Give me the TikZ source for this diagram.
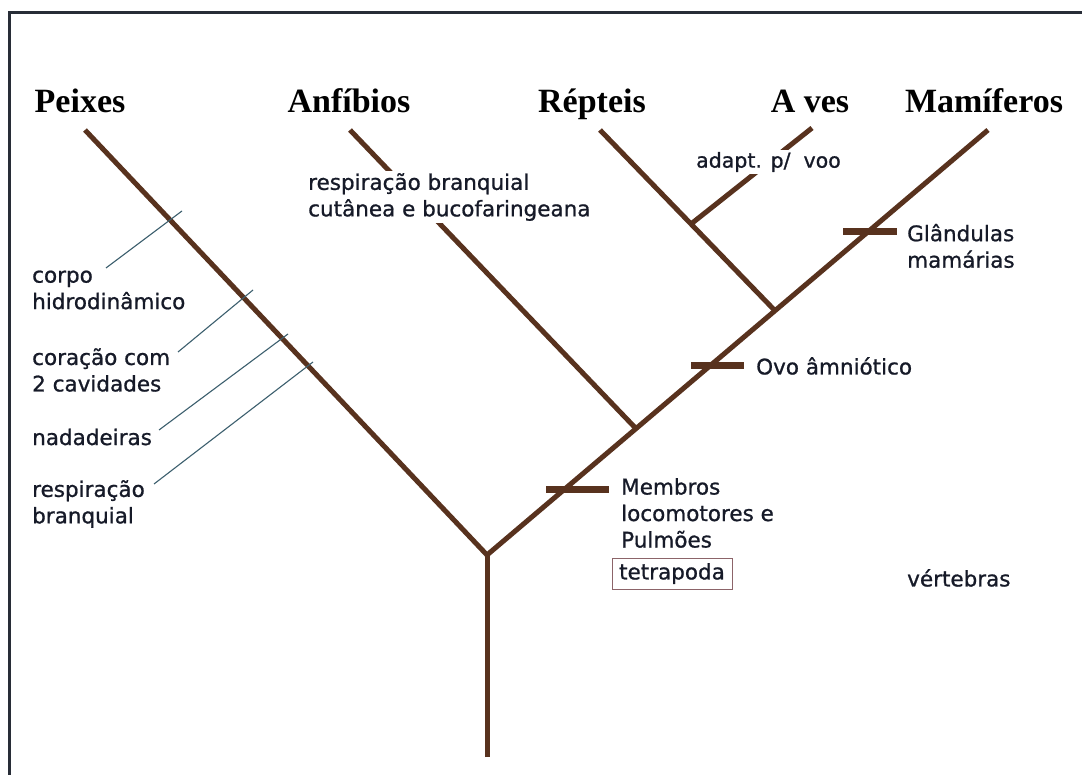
\documentclass[tikz,border=0pt]{standalone}
\usepackage{fontspec}
\setmainfont{Liberation Serif}
\newfontfamily\labfont[FakeBold=0.9]{DejaVu Sans}
\definecolor{branch}{RGB}{88,50,30}
\definecolor{thinc}{RGB}{60,95,110}
\definecolor{ink}{RGB}{22,26,40}
\definecolor{framec}{RGB}{40,45,55}
\definecolor{boxc}{RGB}{140,100,105}
\begin{document}
\begin{tikzpicture}[x=1pt,y=-1pt,
  title/.style={font=\bfseries\fontsize{34}{40}\selectfont, inner sep=0pt, anchor=base},
  lab/.style={font=\labfont\fontsize{21.5}{26.5}\selectfont, text=ink, align=left, inner sep=0pt, anchor=west},
  br/.style={draw=branch, line width=5pt},
  tickbar/.style={draw=branch, line width=7pt},
  pointer/.style={draw=thinc, line width=1.1pt}]
\useasboundingbox (0,0) rectangle (1082,775);
\fill[white] (0,0) rectangle (1082,775);
\draw[framec, line width=3pt] (9,775) -- (9,13) -- (1082,13);

% tree coordinates
\coordinate (root) at (487,757);
\coordinate (fork) at (487,555);
\coordinate (pTop) at (85,130);
\coordinate (mTop) at (988,130);
\coordinate (aTop) at (350,130);
\coordinate (aJ) at (636,428.6);
\coordinate (rTop) at (600,130);
\coordinate (rJ) at (775,310.7);
\coordinate (vTop) at (812,128);
\coordinate (vJ) at (691,224);

% branches
\draw[br] (root) -- (fork);
\draw[br] (fork) -- (pTop);
\draw[br] (fork) -- (mTop);
\draw[br] (aJ) -- (aTop);
\draw[br] (rJ) -- (rTop);
\draw[br] (vJ) -- (vTop);

% tick bars
\coordinate (g1) at (843,232); \coordinate (g2) at (897,232);
\coordinate (o1) at (691,366); \coordinate (o2) at (744,366);
\coordinate (m1) at (546,489); \coordinate (m2) at (609,489);
\draw[tickbar] (g1) -- (g2);
\draw[tickbar] (o1) -- (o2);
\draw[tickbar] (m1) -- (m2);

% titles
\node[title] (peixes) at (80,113) {Peixes};
\node[title] (anfibios) at (349,113) {Anfíbios};
\node[title] (repteis) at (592,113) {Répteis};
\node[title] (aves) at (810,113) {A ves};
\node[title] (mamiferos) at (984,113) {Mamíferos};

% left labels
\node[lab] (corpo) at (32,290) {corpo\\hidrodinâmico};
\node[lab] (coracao) at (32,370) {coração com\\2 cavidades};
\node[lab] (nadadeiras) at (32,437) {nadadeiras};
\node[lab] (resp) at (32,504) {respiração\\branquial};

\coordinate (c1) at (106,268); \coordinate (c2) at (182,211);
\coordinate (h1) at (178,352); \coordinate (h2) at (253,290);
\coordinate (n1) at (159,430); \coordinate (n2) at (288,334);
\coordinate (r1) at (154,484); \coordinate (r2) at (313,362);
\draw[pointer] (c1) -- (c2);
\draw[pointer] (h1) -- (h2);
\draw[pointer] (n1) -- (n2);
\draw[pointer] (r1) -- (r2);

% middle / right labels
\node[lab, fill=white, inner sep=2pt] (anfresp) at (306,197) {respiração branquial\\cutânea e bucofaringeana};
\node[lab, fill=white, inner sep=2pt, font=\labfont\fontsize{20.5}{25}\selectfont] (voo) at (694,162) {adapt. p/\ \ voo};
\node[lab] (glandulas) at (907,246) {Glândulas\\mamárias};
\node[lab] (ovo) at (756,366) {Ovo âmniótico};
\node[lab] (membros) at (621,513) {Membros\\locomotores e\\Pulmões};
\node[lab, anchor=center, draw=boxc, line width=1pt, minimum width=120pt, minimum height=31pt] (tetra) at (672,573.5) {tetrapoda};
\node[lab] (vertebras) at (907,578) {vértebras};
\end{tikzpicture}
\end{document}
